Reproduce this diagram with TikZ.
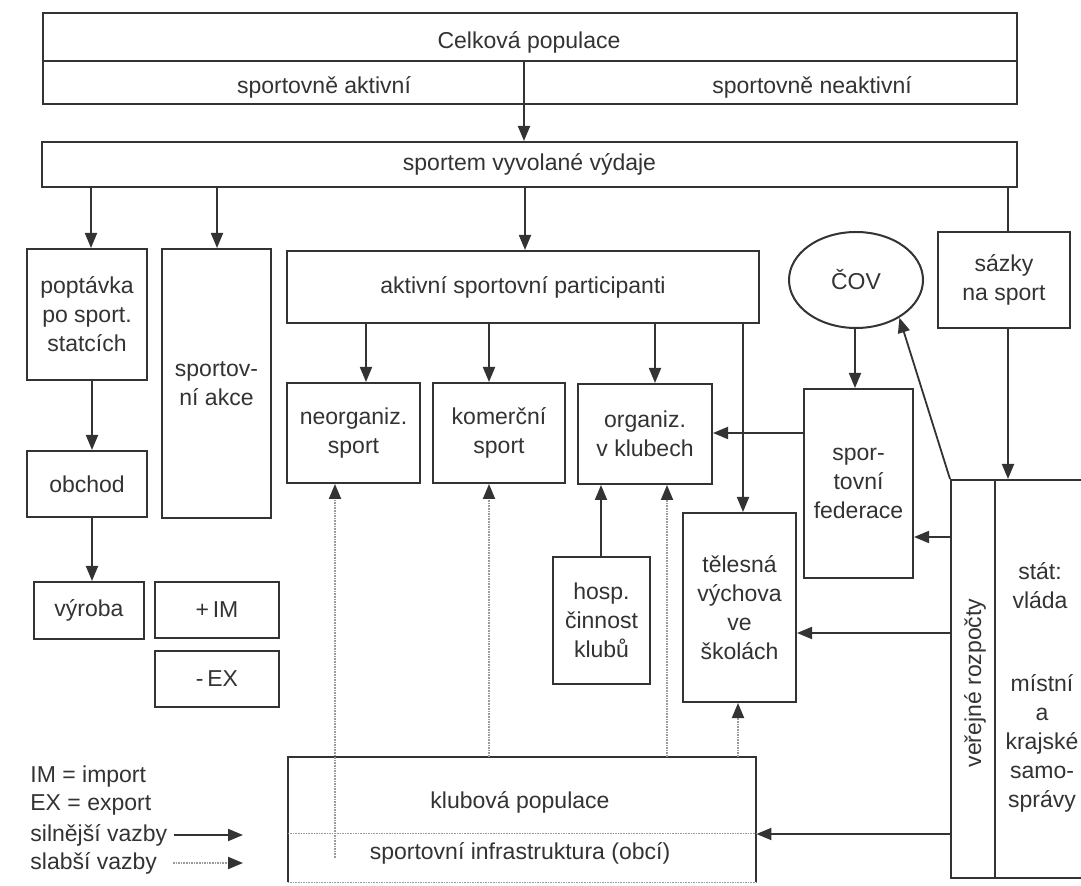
\documentclass[tikz,border=0pt]{standalone}
\usepackage{fontspec}
\setmainfont{Liberation Sans}
\usetikzlibrary{arrows.meta,shapes.geometric}
\definecolor{ink}{HTML}{333333}
\definecolor{faint}{HTML}{9A9A9A}
\begin{document}
\begin{tikzpicture}[x=0.5pt,y=-0.5pt,
  every node/.style={text=ink, font=\fontsize{11.5}{14.5}\selectfont, inner sep=0pt, align=center},
  box/.style={draw=ink, line width=1pt, rectangle},
  boxline/.style={draw=ink, line width=1pt},
  plainline/.style={draw=ink, line width=0.9pt},
  arr/.style={draw=ink, line width=0.9pt, -{Triangle[length=7.5pt,width=6pt]}},
  weak/.style={draw=faint, line width=1pt, dash pattern=on 0.8pt off 0.5pt, -{Triangle[length=7.5pt,width=6pt,color=ink,fill=ink]}},
  weakline/.style={draw=faint, line width=0.9pt, dash pattern=on 0.8pt off 0.5pt}]
\useasboundingbox (0,0) rectangle (1081,886);
\fill[white] (0,0) rectangle (1081,886);

% ---------- top block ----------
\node[box, minimum width=487pt, minimum height=45.5pt] (pop) at (530,58.5) {};
\coordinate (divy) at (0,61);
\draw[boxline] (pop.west |- divy) -- (pop.east |- divy);
\node (t1) at (529,42) {Celková populace};
\node (t2) at (324,87) {sportovně aktivní};
\node (t3) at (812,87) {sportovně neaktivní};
\coordinate (src) at (524,61);

\node[box, minimum width=487.5pt, minimum height=22.5pt] (vydaje) at (529.5,164.5) {sportem vyvolané výdaje};

% ---------- left column ----------
\node[box, minimum width=60pt, minimum height=65.5pt] (popt) at (87,314.5) {poptávka\\po sport.\\statcích};
\node[box, minimum width=54.5pt, minimum height=134.5pt] (akce) at (216.5,383.5) {sportov-\\ní akce};
\node[box, minimum width=60pt, minimum height=33pt] (obchod) at (87,484) {obchod};
\node[box, minimum width=55pt, minimum height=28.5pt] (vyroba) at (89,610.5) {výroba};
\node[box, minimum width=62pt, minimum height=28pt] (im) at (217,610) {+\,IM};
\node[box, minimum width=62pt, minimum height=28pt] (ex) at (217,679) {-\,EX};

% ---------- middle ----------
\node[box, minimum width=236pt, minimum height=36pt] (part) at (523,287) {aktivní sportovní participanti};
\node[box, minimum width=66.5pt, minimum height=50pt] (neorg) at (353.5,433) {neorganiz.\\sport};
\node[box, minimum width=66pt, minimum height=50pt] (kom) at (499,433) {komerční\\sport};
\node[box, minimum width=67pt, minimum height=50pt] (org) at (645,434) {organiz.\\v klubech};
\node[box, minimum width=56.5pt, minimum height=94.5pt] (teles) at (739.5,607.5) {tělesná\\výchova\\ve\\školách};
\node[box, minimum width=48.5pt, minimum height=63.5pt] (hosp) at (601.5,620.5) {hosp.\\činnost\\klubů};

% ---------- right ----------
\node[draw=ink, line width=1pt, ellipse, minimum width=67pt, minimum height=48pt] (cov) at (856,280) {ČOV};
\node[box, minimum width=66pt, minimum height=48pt] (sazky) at (1004,280) {sázky\\na sport};
\node[box, minimum width=54.5pt, minimum height=94.5pt] (fed) at (858.5,483.5) {spor-\\tovní\\federace};
\node[box, minimum width=22pt, minimum height=199pt] (vr) at (973,679) {};
\node[rotate=90] (vrt) at (975,683) {veřejné rozpočty};
\node[box, minimum width=47.5pt, minimum height=199pt] (stat) at (1042.5,679) {};
\node (statA) at (1040,585.5) {stát:\\vláda};
\node (statB) at (1042,743) {místní\\a\\krajské\\samo-\\správy};

% ---------- bottom ----------
\node[minimum width=234pt, minimum height=38pt] (klub) at (522,795) {};
\node[minimum width=234pt, minimum height=24.5pt] (infra) at (522,857.5) {};
\draw[boxline] (infra.south west) -- (klub.north west) -- (klub.north east) -- (infra.south east);
\draw[weakline] (klub.south west) -- (klub.south east);
\draw[weakline] (infra.south west) -- (infra.south east);
\node (klubt) at (520,802) {klubová populace};
\node (infrat) at (520,853) {sportovní infrastruktura (obcí)};

% ---------- legend ----------
\node[anchor=west] (lg1) at (30,777) {IM = import};
\node[anchor=west] (lg2) at (30,805) {EX = export};
\node[anchor=west] (lg3) at (30,835) {silnější vazby};
\node[anchor=west] (lg4) at (30,863) {slabší vazby};
\coordinate (ls2) at (243,835);
\coordinate (lw1) at (173,863);
\coordinate (lw2) at (243,863);
\draw[arr] ([xshift=3pt]lg3.east) -- (ls2);
\draw[weak] (lw1) -- (lw2);

% ---------- helper coordinates ----------
\coordinate (x91) at (91,0);
\coordinate (x217) at (217,0);
\coordinate (x525) at (525,0);
\coordinate (x1008) at (1008,0);
\coordinate (x92) at (92,0);
\coordinate (x366) at (366,0);
\coordinate (x489) at (489,0);
\coordinate (x655) at (655,0);
\coordinate (x743) at (743,0);
\coordinate (x855) at (855,0);
\coordinate (x601) at (601,0);
\coordinate (x335) at (335,0);
\coordinate (x667) at (667,0);
\coordinate (x738) at (738,0);
\coordinate (y433) at (0,433);
\coordinate (y537) at (0,537);
\coordinate (y633) at (0,633);
\coordinate (y834) at (0,834);

% ---------- connectors ----------
\draw[arr] (src) -- (src |- vydaje.north);
\draw[arr] (vydaje.south -| x91) -- (popt.north -| x91);
\draw[arr] (vydaje.south -| x217) -- (akce.north -| x217);
\draw[arr] (vydaje.south -| x525) -- (part.north -| x525);
\draw[plainline] (vydaje.south -| x1008) -- (sazky.north -| x1008);
\draw[arr] (popt.south -| x92) -- (obchod.north -| x92);
\draw[arr] (obchod.south -| x92) -- (vyroba.north -| x92);
\draw[arr] (part.south -| x366) -- (neorg.north -| x366);
\draw[arr] (part.south -| x489) -- (kom.north -| x489);
\draw[arr] (part.south -| x655) -- (org.north -| x655);
\draw[arr] (part.south -| x743) -- (teles.north -| x743);
\draw[arr] (cov.south -| x855) -- (fed.north -| x855);
\draw[arr] (sazky.south -| x1008) -- (stat.north -| x1008);
\draw[arr] (fed.west |- y433) -- (org.east |- y433);
\draw[arr] (vr.west |- y537) -- (fed.east |- y537);
\draw[arr] (vr.west |- y633) -- (teles.east |- y633);
\draw[arr] (vr.west |- y834) -- (klub.east |- y834);
\draw[arr] (vr.north west) -- (cov.-41);
\draw[arr] (hosp.north -| x601) -- (org.south -| x601);
\draw[weak] (infra.center -| x335) -- (neorg.south -| x335);
\draw[weak] (klub.north -| x489) -- (kom.south -| x489);
\draw[weak] (klub.north -| x667) -- (org.south -| x667);
\draw[weak] (klub.north -| x738) -- (teles.south -| x738);
\end{tikzpicture}
\end{document}
